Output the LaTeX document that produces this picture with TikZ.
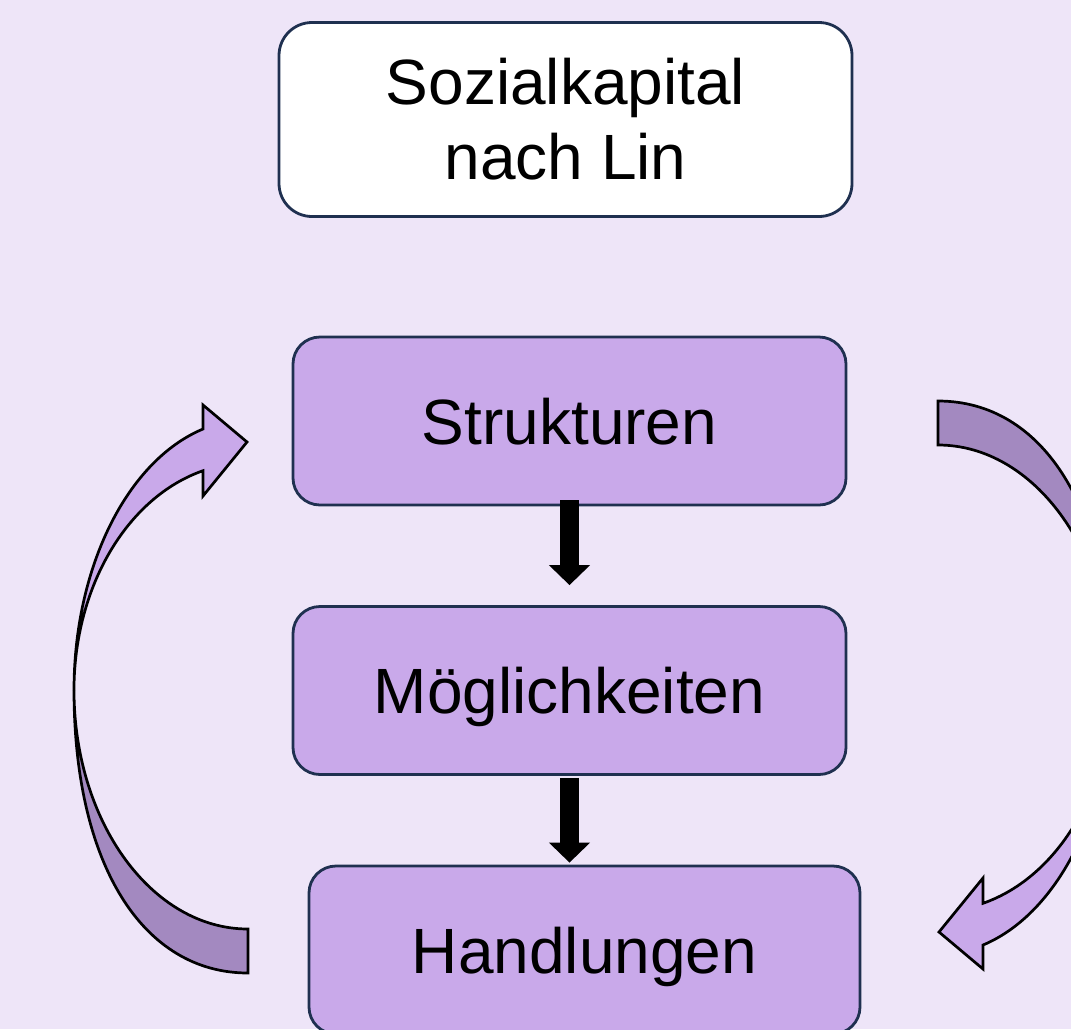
\documentclass[tikz,border=0pt]{standalone}
\usepackage{fontspec}
\setmainfont{Liberation Sans}
\usetikzlibrary{arrows.meta}
\definecolor{bg}{HTML}{EEE5F8}
\definecolor{boxfill}{HTML}{C9A9EA}
\definecolor{boxline}{HTML}{1F3050}
\definecolor{arrlight}{HTML}{C9A9EA}
\definecolor{arrdark}{HTML}{A389C0}
\newcommand\lincurve{%
  \filldraw[fill=arrdark, bendline] (248,973) .. controls (143,973) and (74,865) .. (74,690)
     .. controls (74,822) and (152,929) .. (248,929) -- cycle;
  \filldraw[fill=arrlight, bendline] (74,690) .. controls (74,567.8) and (126.9,460.8) .. (203,429)
     -- (203,405) -- (247,442) -- (203,496) -- (203,470.7)
     .. controls (126.9,497.3) and (74,587.3) .. (74,690) -- cycle;
}
\begin{document}
\begin{tikzpicture}[x=1pt,y=-1pt,
  labelfont/.style={font=\fontsize{64}{75}\selectfont},
  box/.style={draw=boxline, line width=2.8pt, rounded corners=27pt, fill=boxfill,
    minimum width=553pt, minimum height=168pt, inner sep=0pt, labelfont,
    text height=46pt, text depth=0pt},
  titlebox/.style={draw=boxline, line width=2.8pt, rounded corners=33pt, fill=white,
    minimum width=573pt, minimum height=194pt, inner sep=0pt, labelfont, align=center},
  blk/.style={line width=19pt, -{Triangle[width=40pt,length=20pt]}},
  bendline/.style={draw=black, line width=2.7pt, line join=miter}]
\useasboundingbox (0,0) rectangle (1071,1029);
\clip (0,0) rectangle (1071,1029);
\fill[bg] (0,0) rectangle (1071,1029);

\node[titlebox] (T) at (565.5,119.5) {Sozialkapital\\nach Lin};
\node[box] (S) at (569.5,421) {Strukturen};
\node[box] (M) at (569.5,690.5) {Möglichkeiten};
\node[box, minimum width=551pt] (H) at (584.5,950) {Handlungen};

\draw[blk] ([yshift=6pt]S.south) -- ([yshift=20pt]M.north);
\draw[blk] ([yshift=-2pt]M.south) -- ([yshift=2pt]M.south |- H.north);

\lincurve
\begin{scope}[shift={(1186,1374)}, rotate=180]
\lincurve
\end{scope}
\end{tikzpicture}
\end{document}
